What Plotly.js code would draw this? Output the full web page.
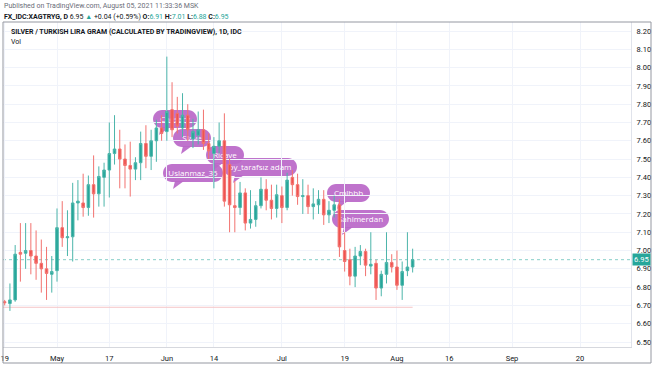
<!DOCTYPE html>
<html><head><meta charset="utf-8">
<script src="https://cdn.plot.ly/plotly-3.0.1.min.js"></script>
<style>html,body{margin:0;padding:0;background:#fff}#chart{width:654px;height:366px}</style>
</head><body><div id="chart"></div>
<script>
const dates = [
'2021-04-19','2021-04-20','2021-04-21','2021-04-22','2021-04-23',
'2021-04-26','2021-04-27','2021-04-28','2021-04-29','2021-04-30',
'2021-05-03','2021-05-04','2021-05-05','2021-05-06','2021-05-07',
'2021-05-10','2021-05-11','2021-05-12','2021-05-13','2021-05-14',
'2021-05-17','2021-05-18','2021-05-19','2021-05-20','2021-05-21',
'2021-05-24','2021-05-25','2021-05-26','2021-05-27','2021-05-28',
'2021-05-31','2021-06-01','2021-06-02','2021-06-03','2021-06-04',
'2021-06-07','2021-06-08','2021-06-09','2021-06-10','2021-06-11',
'2021-06-14','2021-06-15','2021-06-16','2021-06-17','2021-06-18',
'2021-06-21','2021-06-22','2021-06-23','2021-06-24','2021-06-25',
'2021-06-28','2021-06-29','2021-06-30','2021-07-01','2021-07-02',
'2021-07-05','2021-07-06','2021-07-07','2021-07-08','2021-07-09',
'2021-07-12','2021-07-13','2021-07-14','2021-07-15','2021-07-16',
'2021-07-19','2021-07-20','2021-07-21','2021-07-22','2021-07-23',
'2021-07-26','2021-07-27','2021-07-28','2021-07-29','2021-07-30',
'2021-08-02','2021-08-03','2021-08-04','2021-08-05'];
const opens = [6.72,6.71,6.73,6.99,6.985,7.00,6.97,6.93,6.90,6.87,
6.89,7.125,7.07,7.075,7.26,7.26,7.235,7.36,7.31,7.40,
7.44,7.53,7.555,7.50,7.465,7.445,7.48,7.585,7.515,7.60,
7.67,7.65,7.77,7.75,7.67,7.74,7.61,7.63,7.66,7.585,
7.53,7.57,7.60,7.47,7.245,7.235,7.315,7.15,7.17,7.245,
7.335,7.275,7.23,7.30,7.235,7.40,7.36,7.295,7.30,7.24,
7.25,7.28,7.195,7.22,7.25,7.00,6.95,6.86,6.97,6.995,
6.915,6.93,6.795,6.87,6.935,6.91,6.81,6.89,6.91];
const highs = [6.73,6.82,7.03,7.15,7.15,7.15,7.11,7.06,7.02,6.97,
7.23,7.27,7.22,7.37,7.385,7.42,7.41,7.52,7.46,7.48,
7.70,7.74,7.66,7.58,7.595,7.51,7.65,7.685,7.66,7.715,
7.74,8.06,7.92,7.84,7.86,7.80,7.72,7.76,7.77,7.64,
7.62,7.70,7.75,7.50,7.38,7.375,7.34,7.33,7.27,7.40,
7.39,7.36,7.36,7.35,7.425,7.44,7.42,7.39,7.36,7.34,
7.33,7.33,7.27,7.30,7.28,7.10,7.01,7.02,7.03,7.01,
7.10,6.95,6.89,7.10,6.98,7.00,6.94,7.10,7.01];
const lows = [6.70,6.67,6.72,6.83,6.90,6.87,6.84,6.77,6.73,6.77,
6.83,7.02,6.97,6.94,7.165,7.185,7.19,7.18,7.24,7.24,
7.29,7.47,7.34,7.34,7.295,7.385,7.385,7.45,7.44,7.485,
7.60,7.60,7.62,7.64,7.62,7.60,7.56,7.58,7.55,7.50,
7.34,7.53,7.24,7.10,7.10,7.195,7.11,7.12,7.13,7.23,
7.22,7.17,7.18,7.15,7.22,7.30,7.25,7.20,7.20,7.17,
7.20,7.14,7.15,7.18,6.965,6.885,6.81,6.80,6.92,6.86,
6.87,6.73,6.75,6.82,6.88,6.785,6.73,6.86,6.88];
const closes = [6.715,6.73,6.98,6.98,7.00,6.97,6.93,6.90,6.875,6.885,
7.125,7.07,7.075,7.26,7.27,7.235,7.36,7.31,7.405,7.44,
7.53,7.555,7.50,7.465,7.445,7.48,7.585,7.515,7.60,7.67,
7.64,7.76,7.66,7.68,7.74,7.66,7.65,7.66,7.585,7.545,
7.57,7.60,7.27,7.25,7.235,7.315,7.15,7.17,7.245,7.335,
7.275,7.23,7.305,7.235,7.385,7.36,7.295,7.30,7.24,7.255,
7.28,7.195,7.22,7.25,7.02,6.94,6.86,6.97,6.995,6.92,
6.925,6.795,6.87,6.935,6.91,6.81,6.885,6.91,6.95];
const tickDates = ['2021-04-19','2021-05-03','2021-05-17','2021-06-01','2021-06-14','2021-07-01','2021-07-19','2021-08-02','2021-08-16','2021-09-01','2021-09-20'];
const tickLabels = ['19','May','17','Jun','14','Jul','19','Aug','16','Sep','20'];
const ideaLabels = ['Caesary','Slave','Ricave','Uslanmaz_35','by_tarafsız adam','Cmlhbb','Sahimerdan'];
const levelLine = 6.69;
const changeText = '+0.04 (+0.59%)';

// layout geometry (pixels)
const PL = 3, PR = 631, PT = 22, PB = 347;
const PW = PR - PL, PH = PB - PT;
const px = v => (v - PL) / PW;
const py = v => (PB - v) / PH;

const bubbleBoxes = [
  {left:153, bottom:128, w:44, tail:8},
  {left:173, bottom:147, w:38, tail:10},
  {left:206, bottom:164, w:38, tail:8},
  {left:163, bottom:182, w:60, tail:12},
  {left:223, bottom:176, w:74, tail:12},
  {left:327, bottom:202, w:43, tail:12},
  {left:332, bottom:228, w:57, tail:12}
];
function pill(w, h) {
  const r = h / 2, k = 0.5523 * r;
  return `M ${r},0 L ${w-r},0 C ${w-r+k},0 ${w},${r-k} ${w},${r} C ${w},${r+k} ${w-r+k},${h} ${w-r},${h} L ${r},${h} C ${r-k},${h} 0,${r+k} 0,${r} C 0,${r-k} ${r-k},0 ${r},0 Z`;
}
const bubbleColor = 'rgba(186,104,200,0.93)';
const shapes = [];
bubbleBoxes.forEach((b, i) => {
  shapes.push({type:'path', layer:'between', xref:'paper', yref:'paper',
    xsizemode:'pixel', ysizemode:'pixel', xanchor:px(b.left), yanchor:py(b.bottom),
    path:`M ${b.tail},1 L ${b.tail-2},-7 L ${b.tail+9},1 Z`,
    fillcolor:bubbleColor, line:{width:0}});
  shapes.push({type:'path', layer:'between', xref:'paper', yref:'paper',
    xsizemode:'pixel', ysizemode:'pixel', xanchor:px(b.left), yanchor:py(b.bottom),
    path:pill(b.w, 18), fillcolor:bubbleColor, line:{width:0},
    label:{text:ideaLabels[i], font:{color:'#ffffff', size:8, family:'Open Sans'}, textposition:'middle center'}});
});
const lastClose = closes[closes.length - 1];
shapes.push({type:'line', xref:'paper', yref:'y', x0:0, x1:1, y0:lastClose, y1:lastClose,
  line:{color:'rgba(38,166,154,0.55)', width:1, dash:'dot'}, layer:'between'});
shapes.push({type:'line', xref:'x', yref:'y', x0:dates[0], x1:dates[dates.length-1] + ' 12:00', y0:levelLine, y1:levelLine,
  line:{color:'#f5c4c6', width:1}, layer:'between'});
shapes.push({type:'rect', xref:'paper', yref:'paper', x0:0, x1:px(651), y0:py(363), y1:1,
  line:{color:'#9598a1', width:1}, layer:'above'});

const teal = '#26a69a';
const annotations = [
  {xref:'paper', yref:'paper', x:px(2), y:py(6), xanchor:'left', yanchor:'middle', showarrow:false,
   text:'Published on TradingView.com, August 05, 2021 11:33:36 MSK', font:{size:7, color:'#6a6d78', family:'Roboto'}},
  {xref:'paper', yref:'paper', x:px(2), y:py(16.5), xanchor:'left', yanchor:'middle', showarrow:false,
   text:`<b>FX_IDC:XAGTRYG, D</b> ${lastClose.toFixed(2)} <span style="color:${teal}">▲</span> ${changeText} <b>O:</b><span style="color:${teal}">${opens[opens.length-1].toFixed(2)}</span> <b>H:</b><span style="color:${teal}">${highs[highs.length-1].toFixed(2)}</span> <b>L:</b><span style="color:${teal}">${lows[lows.length-1].toFixed(2)}</span> <b>C:</b><span style="color:${teal}">${lastClose.toFixed(2)}</span>`,
   font:{size:7, color:'#131722', family:'Roboto'}},
  {xref:'paper', yref:'paper', x:px(9), y:py(32), xanchor:'left', yanchor:'middle', showarrow:false,
   text:'<b>SILVER / TURKISH LIRA GRAM (CALCULATED BY TRADINGVIEW), 1D, IDC</b>', font:{size:7, color:'#131722', family:'Roboto'}},
  {xref:'paper', yref:'paper', x:px(9), y:py(42), xanchor:'left', yanchor:'middle', showarrow:false,
   text:'Vol', font:{size:7, color:'#131722', family:'Roboto'}},
  {xref:'paper', yref:'y', x:1, y:lastClose, xanchor:'left', yanchor:'middle', showarrow:false, xshift:1,
   text:lastClose.toFixed(2), bgcolor:teal, borderpad:1, font:{size:7.5, color:'#ffffff', family:'Roboto'}}
];

const trace = {
  type:'candlestick', x:dates, open:opens, high:highs, low:lows, close:closes,
  xperiod:86400000, xperiodalignment:'middle',
  increasing:{line:{color:'#4cb5aa', width:1}, fillcolor:'#26a69a'},
  decreasing:{line:{color:'#f2726f', width:1}, fillcolor:'#ef5350'},
  whiskerwidth:0, hoverinfo:'none', showlegend:false
};

const layout = {
  width:654, height:366,
  margin:{l:PL, r:654-PR, t:PT, b:366-PB, pad:0},
  paper_bgcolor:'#ffffff', plot_bgcolor:'#ffffff',
  showlegend:false,
  xaxis:{type:'date', range:['2021-04-19 04:12','2021-10-04 06:00'],
    rangebreaks:[{bounds:['sat','mon']}],
    tickvals:tickDates.map(d => d + ' 12:00'), ticktext:tickLabels,
    tickfont:{size:7.5, color:'#131722', family:'Roboto'},
    showgrid:true, gridcolor:'#f0f3fa', gridwidth:1, ticks:'', showline:true, linecolor:'#d6d8de',
    rangeslider:{visible:false}, zeroline:false, fixedrange:true, ticklabelstandoff:4},
  yaxis:{side:'right', range:[6.4727, 8.2492], tick0:6.5, dtick:0.1, tickformat:'.2f',
    tickfont:{size:7.5, color:'#131722', family:'Roboto'},
    showgrid:true, gridcolor:'#f0f3fa', gridwidth:1, ticks:'', showline:true, linecolor:'#e0e3eb',
    zeroline:false, fixedrange:true, ticklabelstandoff:3},
  shapes:shapes, annotations:annotations
};
Plotly.newPlot('chart', [trace], layout, {staticPlot:true, displayModeBar:false});
</script></body></html>
